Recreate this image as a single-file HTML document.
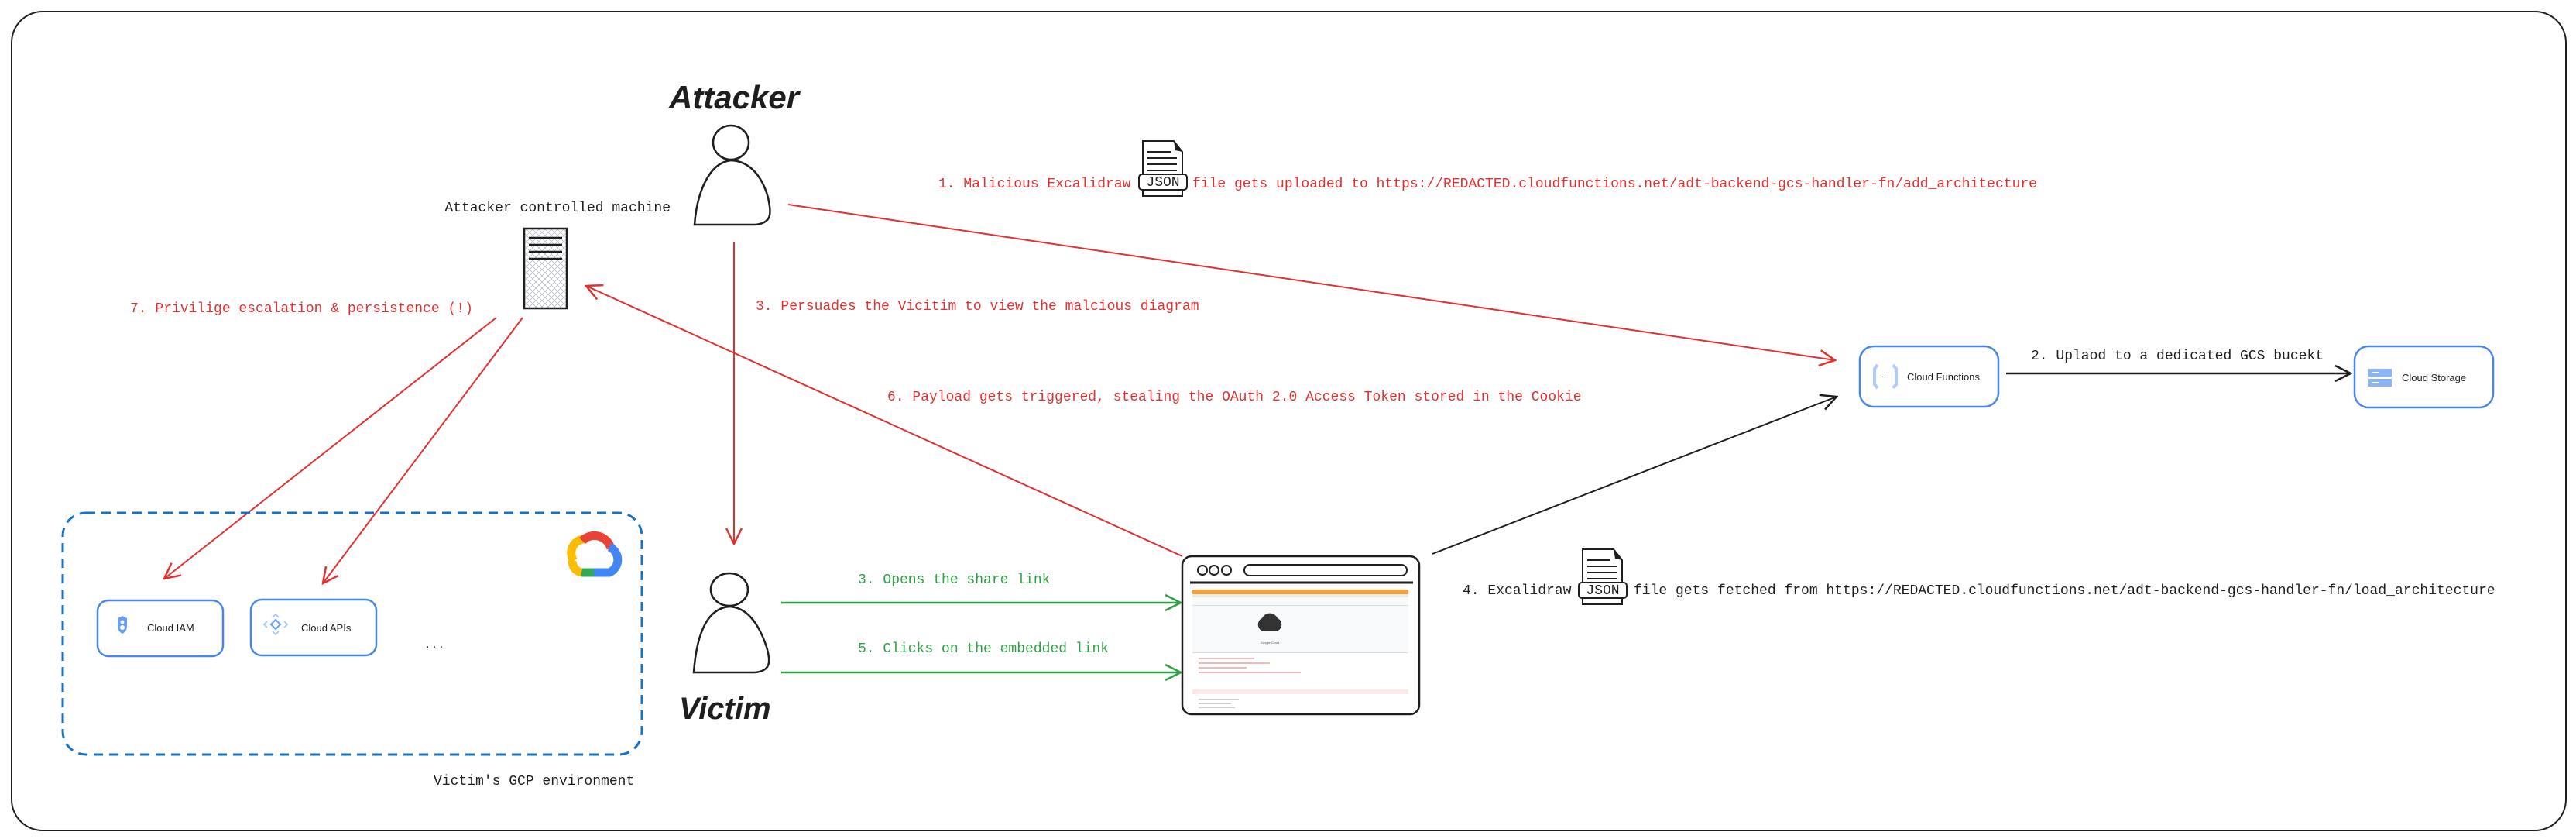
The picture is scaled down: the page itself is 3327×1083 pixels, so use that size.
<!DOCTYPE html>
<html><head><meta charset="utf-8"><style>
html,body{margin:0;padding:0;background:#fff;}
svg{display:block;}
.m{font-family:"Liberation Mono",monospace;font-size:18px;}
.h{font-family:"Liberation Sans",sans-serif;}
</style></head><body>
<svg width="3327" height="1083" viewBox="0 0 3327 1083" xmlns="http://www.w3.org/2000/svg">
<defs>
<marker id="ar" markerWidth="24" markerHeight="24" refX="22" refY="12" orient="auto" markerUnits="userSpaceOnUse"><path d="M2,2 L22,12 L2,22" fill="none" stroke="#e03131" stroke-width="2.5"/></marker>
<marker id="ag" markerWidth="24" markerHeight="24" refX="22" refY="12" orient="auto" markerUnits="userSpaceOnUse"><path d="M2,2 L22,12 L2,22" fill="none" stroke="#2f9e44" stroke-width="2.5"/></marker>
<marker id="ak" markerWidth="24" markerHeight="24" refX="22" refY="12" orient="auto" markerUnits="userSpaceOnUse"><path d="M2,2 L22,12 L2,22" fill="none" stroke="#1e1e1e" stroke-width="2.5"/></marker>
<pattern id="hx" width="8" height="8" patternUnits="userSpaceOnUse"><path d="M0,0 L8,8 M8,0 L0,8" stroke="#b8c0cc" stroke-width="0.8"/></pattern>
</defs>
<rect x="15" y="15" width="3299" height="1057" rx="40" fill="#fff" stroke="#1e1e1e" stroke-width="2"/>

<!-- Attacker -->
<text x="864" y="140" class="h" font-size="42" font-weight="bold" font-style="italic" fill="#1e1e1e">Attacker</text>
<ellipse cx="944" cy="184" rx="23" ry="22" fill="none" stroke="#1e1e1e" stroke-width="2.5"/>
<path d="M944,207 C915,210 900,250 897,290 L975,290 C998,288 996,275 992,255 C985,230 970,208 944,207 Z" fill="none" stroke="#1e1e1e" stroke-width="2.5"/>
<text x="866" y="273" class="m" font-size="17" text-anchor="end" fill="#1e1e1e">Attacker controlled machine</text>
<!-- server -->
<rect x="677" y="295" width="55" height="103" fill="url(#hx)" stroke="#1e1e1e" stroke-width="2.5"/>
<path d="M683,307 H726 M683,316 H726 M683,325 H726 M683,334 H726" stroke="#1e1e1e" stroke-width="2.5"/>

<!-- JSON icon 1 -->
<g transform="translate(1476,182)">
<path d="M0,0 H40 L51,14 V71 H0 Z" fill="#fff" stroke="#1e1e1e" stroke-width="2"/>
<path d="M40,0 L51,14 L42,12 Z" fill="#1e1e1e"/>
<path d="M6,14 H36 M6,22 H44 M6,30 H44 M6,38 H44" stroke="#1e1e1e" stroke-width="2"/>
<rect x="-5" y="43" width="62" height="20" rx="4" fill="#fff" stroke="#1e1e1e" stroke-width="2"/>
<text x="26" y="58" class="m" font-size="13" text-anchor="middle" fill="#1e1e1e">JSON</text>
</g>
<text x="1212" y="242" class="m" fill="#e03131">1. Malicious Excalidraw</text>
<text x="1540" y="242" class="m" fill="#e03131">file gets uploaded to https://REDACTED.cloudfunctions.net/adt-backend-gcs-handler-fn/add_architecture</text>

<!-- red line 1 -->
<line x1="1018" y1="264" x2="2370" y2="465" stroke="#e03131" stroke-width="2" marker-end="url(#ar)"/>
<!-- red line 3 -->
<line x1="948" y1="312" x2="948" y2="702" stroke="#e03131" stroke-width="2" marker-end="url(#ar)"/>
<text x="976" y="400" class="m" fill="#e03131">3. Persuades the Vicitim to view the malcious diagram</text>
<!-- red line 6 -->
<line x1="1527" y1="718" x2="757" y2="369" stroke="#e03131" stroke-width="2" marker-end="url(#ar)"/>
<text x="1146" y="517" class="m" fill="#e03131">6. Payload gets triggered, stealing the OAuth 2.0 Access Token stored in the Cookie</text>
<!-- red 7 -->
<text x="168" y="403" class="m" fill="#e03131">7. Privilige escalation &amp; persistence (!)</text>
<line x1="641" y1="410" x2="212" y2="747" stroke="#e03131" stroke-width="2" marker-end="url(#ar)"/>
<line x1="675" y1="410" x2="417" y2="753" stroke="#e03131" stroke-width="2" marker-end="url(#ar)"/>

<!-- Cloud Functions -->
<rect x="2402" y="447" width="179" height="78" rx="18" fill="#fff" stroke="#4a86e8" stroke-width="2.5"/>
<path d="M2425,471 L2421,476 V496 L2425,501 M2445,471 L2449,476 V496 L2445,501" fill="none" stroke="#aecbfa" stroke-width="4"/>
<text x="2435" y="489" font-size="10" text-anchor="middle" fill="#4a86e8" class="h">···</text>
<text x="2463" y="491" class="h" font-size="13" fill="#1e1e1e">Cloud Functions</text>
<!-- Cloud Storage -->
<rect x="3041" y="447" width="179" height="79" rx="18" fill="#fff" stroke="#4a86e8" stroke-width="2.5"/>
<rect x="3059" y="476" width="30" height="10" fill="#8ab4f8"/>
<rect x="3059" y="489" width="30" height="10" fill="#8ab4f8"/>
<path d="M3064,481 H3072 M3064,494 H3072" stroke="#fff" stroke-width="2"/>
<text x="3102" y="492" class="h" font-size="13" fill="#1e1e1e">Cloud Storage</text>
<line x1="2591" y1="482" x2="3036" y2="482" stroke="#1e1e1e" stroke-width="2.5" marker-end="url(#ak)"/>
<text x="2623" y="464" class="m" font-size="19" fill="#1e1e1e">2. Uplaod to a dedicated GCS bucekt</text>

<!-- black line 4 -->
<line x1="1850" y1="715" x2="2372" y2="512" stroke="#1e1e1e" stroke-width="2" marker-end="url(#ak)"/>
<g transform="translate(2044,709)">
<path d="M0,0 H40 L51,14 V71 H0 Z" fill="#fff" stroke="#1e1e1e" stroke-width="2"/>
<path d="M40,0 L51,14 L42,12 Z" fill="#1e1e1e"/>
<path d="M6,14 H36 M6,22 H44 M6,30 H44 M6,38 H44" stroke="#1e1e1e" stroke-width="2"/>
<rect x="-5" y="43" width="62" height="20" rx="4" fill="#fff" stroke="#1e1e1e" stroke-width="2"/>
<text x="26" y="58" class="m" font-size="13" text-anchor="middle" fill="#1e1e1e">JSON</text>
</g>
<text x="1889" y="767" class="m" fill="#1e1e1e">4. Excalidraw</text>
<text x="2110" y="767" class="m" fill="#1e1e1e">file gets fetched from https://REDACTED.cloudfunctions.net/adt-backend-gcs-handler-fn/load_architecture</text>

<!-- Victim -->
<ellipse cx="942" cy="761" rx="24" ry="21" fill="none" stroke="#1e1e1e" stroke-width="2.5"/>
<path d="M942,783 C915,785 900,815 896,868 L975,868 C995,866 996,855 990,835 C980,805 965,784 942,783 Z" fill="none" stroke="#1e1e1e" stroke-width="2.5"/>
<text x="877" y="928" class="h" font-size="40" font-weight="bold" font-style="italic" fill="#1e1e1e">Victim</text>

<line x1="1009" y1="778" x2="1525" y2="778" stroke="#2f9e44" stroke-width="2.5" marker-end="url(#ag)"/>
<line x1="1009" y1="868" x2="1525" y2="868" stroke="#2f9e44" stroke-width="2.5" marker-end="url(#ag)"/>
<text x="1108" y="753" class="m" fill="#2f9e44">3. Opens the share link</text>
<text x="1108" y="842" class="m" fill="#2f9e44">5. Clicks on the embedded link</text>

<!-- Browser -->
<rect x="1527" y="718" width="306" height="204" rx="12" fill="#fff" stroke="#1e1e1e" stroke-width="2.5"/>
<circle cx="1553" cy="736" r="6" fill="none" stroke="#1e1e1e" stroke-width="2"/>
<circle cx="1568" cy="736" r="6" fill="none" stroke="#1e1e1e" stroke-width="2"/>
<circle cx="1584" cy="736" r="6" fill="none" stroke="#1e1e1e" stroke-width="2"/>
<rect x="1607" y="729" width="210" height="14" rx="7" fill="none" stroke="#1e1e1e" stroke-width="2"/>
<line x1="1537" y1="752" x2="1825" y2="752" stroke="#1e1e1e" stroke-width="3"/>
<rect x="1540" y="761" width="279" height="158" fill="#f8f9fa"/>
<rect x="1540" y="761" width="279" height="6" fill="#f6a035"/>
<rect x="1540" y="767" width="279" height="4" fill="#e8eaed"/>
<rect x="1540" y="781" width="279" height="1" fill="#dadce0"/>
<rect x="1540" y="842" width="279" height="1" fill="#dadce0"/>
<rect x="1540" y="843" width="279" height="76" fill="#fff"/>
<path d="M1632,815 a9,9 0 0 1 -2,-17 a11,11 0 0 1 20,0 a9,9 0 0 1 -2,17 Z" fill="#333"/>
<text x="1640" y="831" font-size="4" class="h" text-anchor="middle" fill="#555">Google Cloud</text>
<rect x="1540" y="890" width="279" height="6" fill="#fde8e8"/>
<path d="M1548,850 H1620 M1548,856 H1640 M1548,862 H1610 M1548,868 H1680" stroke="#e57373" stroke-width="1"/>
<path d="M1548,903 H1600 M1548,908 H1590 M1548,913 H1595" stroke="#999" stroke-width="1"/>

<!-- GCP env -->
<rect x="81" y="662" width="748" height="312" rx="30" fill="none" stroke="#1971c2" stroke-width="3" stroke-dasharray="12 8"/>
<rect x="126" y="775" width="162" height="72" rx="14" fill="#fff" stroke="#4a86e8" stroke-width="2.5"/>
<path d="M152,798 l6,-3 l6,3 v10 q0,7 -6,10 q-6,-3 -6,-10 Z" fill="#669df6"/>
<circle cx="158" cy="803" r="2.5" fill="#fff"/><circle cx="158" cy="810" r="3" fill="#fff"/>
<text x="190" y="815" class="h" font-size="13" fill="#1e1e1e">Cloud IAM</text>
<rect x="324" y="774" width="162" height="72" rx="14" fill="#fff" stroke="#4a86e8" stroke-width="2.5"/>
<path d="M356,800 l6,6 l-6,6 l-6,-6 Z" fill="none" stroke="#669df6" stroke-width="2"/>
<path d="M352,797 l4,-4 l4,4 M352,815 l4,4 l4,-4 M345,802 l-4,4 l4,4 M367,802 l4,4 l-4,4" fill="none" stroke="#aecbfa" stroke-width="2"/>
<text x="389" y="815" class="h" font-size="13" fill="#1e1e1e">Cloud APIs</text>
<text x="550" y="836" class="h" font-size="16" fill="#1e1e1e">. . .</text>
<!-- GCP logo -->
<g transform="translate(729,684)" fill="none" stroke-width="11">
<path d="M12,40 A18,18 0 0 1 30,12" stroke="#fbbc04"/>
<path d="M23,14 A22,22 0 0 1 60,24" stroke="#ea4335"/>
<path d="M58,22 A18,18 0 0 1 58,55 L38,55" stroke="#4285f4"/>
<path d="M38,55 L22,55" stroke="#34a853"/>
<path d="M22,55 A15,15 0 0 1 10,40" stroke="#fbbc04"/>
</g>
<text x="560" y="1013" class="m" fill="#1e1e1e">Victim's GCP environment</text>
</svg>
</body></html>
